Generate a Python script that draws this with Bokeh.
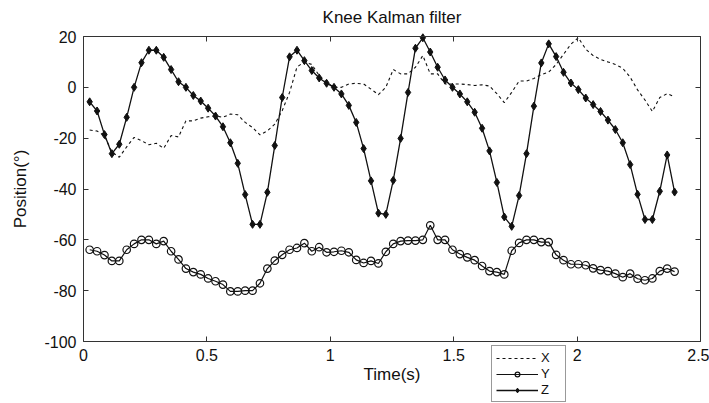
from bokeh.plotting import figure
from bokeh.models import (Range1d, LinearAxis, FixedTicker, Legend, Label,
                          CustomLabelingPolicy)
from bokeh.embed import file_html
from bokeh.resources import INLINE

# Sample times (s), ~33 Hz
time_s = [
    0.025, 0.055, 0.085, 0.115, 0.145, 0.175, 0.205, 0.235, 0.265, 0.295,
    0.325, 0.355, 0.385, 0.415, 0.445, 0.475, 0.505, 0.535, 0.565, 0.595,
    0.625, 0.655, 0.685, 0.715, 0.745, 0.775, 0.805, 0.835, 0.865, 0.895,
    0.925, 0.955, 0.985, 1.015, 1.045, 1.075, 1.105, 1.135, 1.165, 1.195,
    1.225, 1.255, 1.285, 1.315, 1.345, 1.375, 1.405, 1.435, 1.465, 1.495,
    1.525, 1.555, 1.585, 1.615, 1.645, 1.675, 1.705, 1.735, 1.765, 1.795,
    1.825, 1.855, 1.885, 1.915, 1.945, 1.975, 2.005, 2.035, 2.065, 2.095,
    2.125, 2.155, 2.185, 2.215, 2.245, 2.275, 2.305, 2.335, 2.365, 2.395,
]

# Filtered knee angles (degrees)
knee_x = [
    -16.8, -17.2, -19.0, -25.5, -27.5, -23.4, -19.7, -21.0, -22.6, -22.0,
    -24.0, -19.0, -19.5, -13.2, -13.2, -12.1, -11.6, -11.2, -11.8, -10.5,
    -10.8, -13.8, -15.8, -18.7, -17.1, -14.5, -9.2, -2.0, 8.0, 10.0,
    9.0, 4.6, 2.0, 0.0, 0.0, 1.3, 1.6, 1.3, -0.7, -2.9,
    0.0, 7.0, 5.3, 5.3, 7.9, 12.5, 5.3, 5.3, 1.3, 1.3,
    1.3, 1.1, 0.7, 1.0, 0.5, -2.5, -6.0, -2.0, 2.5, 2.5,
    3.5, 5.0, 6.0, 9.0, 13.0, 17.0, 19.5, 15.0, 12.5, 11.0,
    10.0, 9.0, 7.5, 4.0, -1.0, -5.0, -9.5, -4.0, -2.5, -3.7,
]

knee_y = [
    -63.9, -64.5, -66.0, -68.3, -68.3, -63.9, -61.6, -60.0, -60.0, -61.6,
    -60.5, -64.5, -67.7, -71.3, -72.7, -73.6, -75.2, -76.3, -77.6, -80.3,
    -80.3, -80.0, -80.0, -77.1, -71.3, -68.2, -65.9, -63.9, -63.2, -61.3,
    -64.5, -62.9, -64.9, -64.7, -64.3, -64.9, -67.9, -69.1, -68.3, -69.3,
    -64.7, -61.6, -60.5, -60.3, -60.3, -60.0, -54.3, -60.0, -60.0, -63.9,
    -65.6, -66.9, -68.0, -70.3, -72.3, -72.7, -73.6, -64.3, -61.2, -60.0,
    -60.0, -60.9, -60.9, -65.9, -68.0, -69.6, -69.6, -70.0, -71.2, -71.9,
    -72.3, -73.3, -74.7, -73.3, -75.3, -75.9, -75.2, -72.3, -71.3, -72.5,
]

knee_z = [
    -5.7, -9.3, -18.6, -26.1, -22.4, -11.8, 0.0, 9.7, 14.6, 14.6,
    11.8, 7.0, 2.2, 0.0, -3.2, -5.4, -8.2, -11.3, -15.5, -21.8,
    -29.9, -42.2, -53.9, -53.9, -41.3, -22.9, -4.0, 12.0, 14.6, 10.5,
    6.6, 3.7, 1.6, 0.0, -2.6, -7.1, -13.8, -24.1, -36.8, -49.5,
    -50.0, -36.6, -20.1, -2.0, 15.4, 19.5, 13.9, 7.9, 2.9, 0.0,
    -2.6, -5.7, -9.8, -16.1, -25.0, -37.4, -51.0, -54.7, -42.6, -26.1,
    -7.4, 9.6, 17.1, 12.1, 5.9, 1.7, -0.9, -4.2, -6.8, -9.5,
    -12.9, -16.6, -21.8, -30.4, -42.1, -52.0, -52.0, -40.9, -26.6, -41.2,
]

series_names = ["X", "Y", "Z"]
x_ticks = [0, 0.5, 1, 1.5, 2, 2.5]
y_ticks = [-100, -80, -60, -40, -20, 0, 20]
x_lim = (0, 2.5)
y_lim = (-100, 20)

FONT = "Liberation Sans"
INK = "#111111"
FRAME = "#333333"

# Canvas geometry: the axis box sits inside the page with these margins.
W, H = 709, 403
BOX_L, BOX_R, BOX_T, BOX_B = 83, 9, 36, 62

# The plotting frame covers the whole page, so that the tick labels, titles
# and the legend hanging under the axis box are all drawn inside it; the
# visible box is made by four axes pinned to the data limits.
px_x = (W - BOX_L - BOX_R) / (x_lim[1] - x_lim[0])
px_y = (H - BOX_T - BOX_B) / (y_lim[1] - y_lim[0])
x_range = Range1d(x_lim[0] - BOX_L / px_x, x_lim[1] + BOX_R / px_x)
y_range = Range1d(y_lim[0] - BOX_B / px_y, y_lim[1] + BOX_T / px_y)

p = figure(
    width=W, height=H, x_range=x_range, y_range=y_range,
    x_axis_type=None, y_axis_type=None,
    output_backend="svg", toolbar_location=None, min_border=0,
)
p.background_fill_color = "white"
p.border_fill_color = "white"
p.outline_line_color = None


def styled_axis(ticks, **kw):
    ax = LinearAxis(ticker=FixedTicker(ticks=ticks), **kw)
    ax.major_tick_in = 5
    ax.major_tick_out = 0
    ax.minor_tick_in = 0
    ax.minor_tick_out = 0
    ax.axis_line_color = FRAME
    ax.major_tick_line_color = FRAME
    ax.major_label_text_font = FONT
    ax.major_label_text_font_size = "16px"
    ax.major_label_text_color = INK
    # plain hyphen-minus labels, e.g. "-100"
    ax.major_label_overrides = {t: str(t) for t in ticks}
    ax.axis_label_text_font = FONT
    ax.axis_label_text_font_size = "17px"
    ax.axis_label_text_font_style = "normal"
    ax.axis_label_text_color = INK
    return ax


xaxis = styled_axis(x_ticks, axis_label="Time(s)",
                    fixed_location=y_lim[0], bounds=x_lim)
xaxis.major_label_standoff = 7
xaxis.axis_label_standoff = 1
p.add_layout(xaxis, "below")

yaxis = styled_axis(y_ticks, axis_label="Position(°)",
                    fixed_location=x_lim[0], bounds=y_lim)
yaxis.major_label_standoff = 7
yaxis.axis_label_standoff = 11
p.add_layout(yaxis, "left")

# mirrored tick marks (no labels) on the top and right edges
no_labels = CustomLabelingPolicy(
    code="for (const i of indices) { indices.unset(i) } return indices")
top = styled_axis(x_ticks, major_label_policy=no_labels,
                  fixed_location=y_lim[1], bounds=x_lim)
right = styled_axis(y_ticks, major_label_policy=no_labels,
                    fixed_location=x_lim[1], bounds=y_lim)
for ax, side in ((top, "above"), (right, "right")):
    ax.major_label_text_font_size = "1px"
    ax.major_label_standoff = 0
    p.add_layout(ax, side)

title = Label(
    x=(x_lim[0] + x_lim[1]) / 2, y=H - 17, y_units="screen",
    text="Knee Kalman filter", text_align="center", text_baseline="middle",
    text_font=FONT, text_font_size="17px", text_color=INK,
)
p.add_layout(title)

styles = dict(
    X=dict(line=dict(line_color=INK, line_width=1.1, line_dash="3 3"), marker=None),
    Y=dict(line=dict(line_color=INK, line_width=1.2),
           marker=dict(marker="circle", size=7.5, line_color=INK,
                       line_width=1.2, fill_alpha=0)),
    Z=dict(line=dict(line_color=INK, line_width=1.3),
           marker=dict(marker="diamond", size=8, line_color=INK,
                       fill_color=INK)),
)

items = []
for name, vals in zip(series_names, (knee_x, knee_y, knee_z)):
    st = styles[name]
    rs = [p.line(time_s, vals, **st["line"])]
    if st["marker"]:
        rs.append(p.scatter(time_s, vals, **st["marker"]))
    items.append((name, rs))

legend = Legend(
    items=items, location=(491, 1),
    glyph_width=42, glyph_height=12, label_height=14,
    label_text_font=FONT, label_text_font_size="13px", label_text_color=INK,
    label_standoff=3, spacing=1, padding=4, margin=0,
    border_line_color=FRAME, border_line_width=1,
    background_fill_color="white", background_fill_alpha=1,
)
p.add_layout(legend, "center")

open("out.html", "w").write(file_html(p, INLINE))
